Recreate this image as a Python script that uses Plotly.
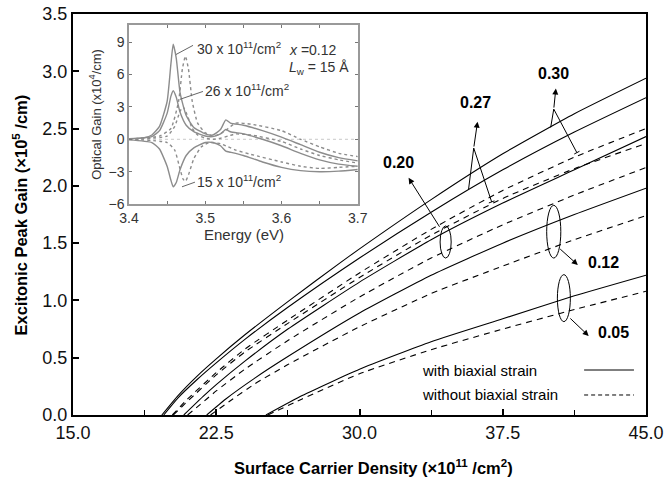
import plotly.graph_objects as go

# ---------------- main panel data ----------------
# x = surface carrier density (1e11 /cm^2), y = excitonic peak gain (1e5 /cm)
s30_x = [19.65, 20.5, 21.5, 22.5, 24.0, 26.25, 29.0, 30.0, 33.75, 37.5, 41.25, 45.0]
s30_y = [0.0, 0.17, 0.34, 0.49, 0.70, 0.99, 1.33, 1.45, 1.88, 2.28, 2.63, 2.94]
s27_x = [19.75, 20.5, 21.5, 22.5, 24.0, 26.25, 30.0, 33.75, 37.5, 41.25, 45.0]
s27_y = [0.0, 0.15, 0.31, 0.455, 0.66, 0.94, 1.37, 1.77, 2.14, 2.47, 2.77]
d30_x = [20.2, 21.0, 22.5, 24.0, 26.25, 30.0, 33.75, 37.5, 41.25, 45.0]
d30_y = [0.0, 0.14, 0.37, 0.575, 0.83, 1.24, 1.62, 1.96, 2.25, 2.50]
d27_x = [20.25, 21.0, 22.5, 24.0, 26.25, 30.0, 33.75, 37.5, 41.25, 45.0]
d27_y = [0.0, 0.12, 0.35, 0.55, 0.80, 1.20, 1.57, 1.89, 2.15, 2.37]
s20_x = [20.8, 21.8, 22.5, 24.0, 26.25, 30.0, 33.75, 37.5, 41.25, 45.0]
s20_y = [0.0, 0.16, 0.265, 0.47, 0.75, 1.16, 1.53, 1.85, 2.14, 2.43]
d20_x = [21.0, 22.0, 22.5, 24.0, 26.25, 30.0, 33.75, 37.5, 41.25, 45.0]
d20_y = [0.0, 0.14, 0.21, 0.40, 0.65, 1.03, 1.37, 1.66, 1.92, 2.16]
s12_x = [22.0, 23.0, 24.5, 26.25, 30.0, 33.75, 37.5, 41.25, 45.0]
s12_y = [0.0, 0.14, 0.32, 0.51, 0.89, 1.22, 1.50, 1.75, 1.98]
d12_x = [22.2, 23.2, 24.5, 26.25, 30.0, 33.75, 37.5, 41.25, 45.0]
d12_y = [0.0, 0.12, 0.27, 0.44, 0.77, 1.06, 1.30, 1.53, 1.74]
s05_x = [25.1, 27.0, 30.0, 33.75, 37.5, 41.25, 45.0]
s05_y = [0.0, 0.17, 0.40, 0.64, 0.84, 1.04, 1.22]
d05_x = [25.2, 27.0, 30.0, 33.75, 37.5, 41.25, 45.0]
d05_y = [0.0, 0.14, 0.36, 0.57, 0.75, 0.92, 1.08]

x_ticks = [15.0, 22.5, 30.0, 37.5, 45.0]
y_ticks = [0.0, 0.5, 1.0, 1.5, 2.0, 2.5, 3.0, 3.5]

# composition labels: text, label position, arrow tail, arrow tip
comp_labels = ["0.30", "0.27", "0.20", "0.12", "0.05"]
label_x = [40.17, 36.07, 32.04, 42.80, 43.30]
label_y = [2.98, 2.73, 2.20, 1.33, 0.72]
arrow_tail_x = [40.17, 35.98, 34.24, 40.43, 40.96]
arrow_tail_y = [2.67, 2.33, 1.63, 1.46, 0.855]
arrow_tip_x = [40.28, 36.18, 32.57, 41.43, 42.00]
arrow_tip_y = [2.85, 2.56, 2.07, 1.31, 0.69]
# branch lines from junction to the two curves (0.30 and 0.27)
branch_from = [(40.17, 2.67), (40.17, 2.67), (35.98, 2.33), (35.98, 2.33)]
branch_to = [(40.01, 2.51), (41.38, 2.29), (35.71, 1.97), (36.92, 1.86)]
# small end bars at the dashed-curve ends of the branches
bar_center = [(41.38, 2.29), (36.92, 1.86)]
bar_half = [(0.137, 0.012), (0.149, 0.009)]
# ellipses: center x, center y, half width, half height
ell_cx = [34.51, 40.17, 40.70]
ell_cy = [1.51, 1.60, 1.02]
ell_hw = [0.29, 0.37, 0.34]
ell_hh = [0.14, 0.23, 0.205]

# ---------------- inset data ----------------
e_s30 = [3.40, 3.42, 3.43, 3.44, 3.45, 3.455, 3.458, 3.462, 3.467, 3.475, 3.485, 3.50, 3.51, 3.52, 3.527, 3.533, 3.55, 3.575, 3.60, 3.625, 3.65, 3.675, 3.70]
g_s30 = [0.05, 0.15, 0.4, 1.2, 3.5, 7.0, 8.8, 7.5, 4.3, 2.2, 1.1, 0.5, 0.4, 0.9, 1.8, 1.5, 1.3, 0.8, 0.2, -0.5, -1.2, -1.7, -2.0]
e_s26 = [3.40, 3.43, 3.44, 3.45, 3.455, 3.458, 3.462, 3.467, 3.475, 3.485, 3.50, 3.51, 3.52, 3.527, 3.533, 3.55, 3.575, 3.60, 3.625, 3.65, 3.675, 3.70]
g_s26 = [0.03, 0.25, 0.8, 2.4, 4.0, 4.5, 3.9, 2.5, 1.3, 0.7, 0.3, 0.25, 0.5, 0.9, 0.7, 0.5, 0.0, -0.6, -1.3, -1.9, -2.3, -2.5]
e_s15 = [3.40, 3.43, 3.44, 3.45, 3.455, 3.458, 3.462, 3.467, 3.475, 3.485, 3.50, 3.51, 3.52, 3.527, 3.533, 3.55, 3.575, 3.60, 3.625, 3.65, 3.675, 3.70]
g_s15 = [-0.05, -0.3, -0.9, -2.5, -3.8, -4.4, -4.0, -2.8, -1.5, -0.8, -0.3, -0.3, -0.6, -1.1, -1.2, -1.5, -2.1, -2.6, -2.9, -3.0, -2.95, -2.8]
e_d30 = [3.40, 3.44, 3.455, 3.465, 3.47, 3.474, 3.478, 3.483, 3.49, 3.50, 3.51, 3.52, 3.53, 3.54, 3.56, 3.60, 3.625, 3.65, 3.675, 3.70]
g_d30 = [0.02, 0.3, 1.0, 3.5, 6.5, 7.7, 6.5, 3.5, 1.5, 0.6, 0.3, 0.5, 1.0, 1.5, 1.4, 0.8, 0.0, -0.7, -1.3, -1.6]
e_d26 = [3.40, 3.45, 3.46, 3.467, 3.471, 3.476, 3.483, 3.49, 3.50, 3.51, 3.52, 3.53, 3.54, 3.56, 3.60, 3.625, 3.65, 3.675, 3.70]
g_d26 = [0.0, 0.3, 1.2, 2.6, 3.0, 2.3, 1.0, 0.4, 0.1, 0.0, 0.1, 0.3, 0.5, 0.4, -0.2, -0.9, -1.5, -1.9, -2.2]
e_d15 = [3.40, 3.45, 3.46, 3.466, 3.471, 3.474, 3.478, 3.485, 3.495, 3.505, 3.52, 3.53, 3.54, 3.56, 3.60, 3.625, 3.65, 3.675, 3.70]
g_d15 = [0.0, -0.3, -1.0, -2.5, -3.7, -3.9, -3.3, -1.8, -0.7, -0.3, -0.4, -0.7, -1.0, -1.4, -2.1, -2.5, -2.7, -2.6, -2.5]

inset_x_ticks = [3.4, 3.5, 3.6, 3.7]
inset_y_ticks = [-6, -3, 0, 3, 6, 9]

FONT = "Liberation Sans, Arial, sans-serif"
DASH = "6px,5px"

fig = go.Figure()

main_series = [
    (s30_x, s30_y, "solid"), (s27_x, s27_y, "solid"), (d30_x, d30_y, DASH),
    (d27_x, d27_y, DASH), (s20_x, s20_y, "solid"), (d20_x, d20_y, DASH),
    (s12_x, s12_y, "solid"), (d12_x, d12_y, DASH), (s05_x, s05_y, "solid"),
    (d05_x, d05_y, DASH),
]
for xs, ys, dash in main_series:
    fig.add_trace(go.Scatter(x=xs, y=ys, mode="lines", showlegend=False,
                             line=dict(color="black", width=1.1, dash=dash,
                                       shape="spline", smoothing=0.5),
                             xaxis="x", yaxis="y", hoverinfo="skip"))

inset_series = [
    (e_s30, g_s30, "solid"), (e_s26, g_s26, "solid"), (e_s15, g_s15, "solid"),
    (e_d30, g_d30, "dot"), (e_d26, g_d26, "dot"), (e_d15, g_d15, "dot"),
]
# zero line in the inset
fig.add_trace(go.Scatter(x=[inset_x_ticks[0], inset_x_ticks[-1]], y=[0, 0], mode="lines",
                         line=dict(color="#c8c8c8", width=1, dash="dot"),
                         xaxis="x2", yaxis="y2", showlegend=False, hoverinfo="skip"))
for xs, ys, dash in inset_series:
    fig.add_trace(go.Scatter(x=xs, y=ys, mode="lines", showlegend=False,
                             line=dict(color="#8c8c8c", width=1.4, dash=dash,
                                       shape="spline", smoothing=0.5),
                             xaxis="x2", yaxis="y2", hoverinfo="skip"))

shapes = []
for (fx, fy), (tx, ty) in zip(branch_from, branch_to):
    shapes.append(dict(type="line", xref="x", yref="y", x0=fx, y0=fy, x1=tx, y1=ty,
                       line=dict(color="black", width=1)))
for (cx, cy), (hx, hy) in zip(bar_center, bar_half):
    shapes.append(dict(type="line", xref="x", yref="y", x0=cx - hx, y0=cy - hy,
                       x1=cx + hx, y1=cy + hy, line=dict(color="black", width=1)))
for cx, cy, hw, hh in zip(ell_cx, ell_cy, ell_hw, ell_hh):
    shapes.append(dict(type="circle", xref="x", yref="y", x0=cx - hw, x1=cx + hw,
                       y0=cy - hh, y1=cy + hh, line=dict(color="black", width=1)))
# legend sample lines
shapes.append(dict(type="line", xref="paper", yref="paper", x0=0.892, x1=0.979,
                   y0=0.1122, y1=0.1122, line=dict(color="black", width=1)))
shapes.append(dict(type="line", xref="paper", yref="paper", x0=0.892, x1=0.979,
                   y0=0.0499, y1=0.0499, line=dict(color="black", width=1, dash="4px,3px")))

ann = []
for t, lx, ly in zip(comp_labels, label_x, label_y):
    ann.append(dict(x=lx, y=ly, xref="x", yref="y", text="<b>" + t + "</b>",
                    xanchor="center", yanchor="middle",
                    showarrow=False, font=dict(family=FONT, size=16, color="black")))
for tx, ty, hx, hy in zip(arrow_tail_x, arrow_tail_y, arrow_tip_x, arrow_tip_y):
    ann.append(dict(x=hx, y=hy, ax=tx, ay=ty, xref="x", yref="y", axref="x", ayref="y",
                    text="", showarrow=True, arrowhead=2, arrowsize=1.2, arrowwidth=1,
                    arrowcolor="black"))
# legend texts
ann.append(dict(x=0.6056, y=0.1122, xref="paper", yref="paper", xanchor="left",
                yanchor="middle", text="with biaxial strain", showarrow=False,
                font=dict(family=FONT, size=15, color="black")))
ann.append(dict(x=0.6056, y=0.0499, xref="paper", yref="paper", xanchor="left",
                yanchor="middle", text="without biaxial strain", showarrow=False,
                font=dict(family=FONT, size=15, color="black")))
# axis titles
ann.append(dict(x=-0.0925, y=0.5, xref="paper", yref="paper", textangle=-90,
                xanchor="center", yanchor="middle",
                text="<b>Excitonic Peak Gain (×10<sup>5</sup> /cm)</b>", showarrow=False,
                font=dict(family=FONT, size=16.5, color="black")))
ann.append(dict(x=0.525, y=-0.13, xref="paper", yref="paper",
                xanchor="center", yanchor="middle",
                text="<b>Surface Carrier Density (×10<sup>11</sup> /cm<sup>2</sup>)</b>",
                showarrow=False, font=dict(family=FONT, size=16.5, color="black")))
# inset texts
IC = "#333333"
ann.append(dict(x=0.2976, y=0.449, xref="paper", yref="paper", xanchor="center",
                yanchor="middle", text="Energy (eV)", showarrow=False,
                font=dict(family=FONT, size=15, color=IC)))
ann.append(dict(x=3.4865, y=8.5, xref="x2", yref="y2", xanchor="left", yanchor="middle",
                text="30 x 10<sup>11</sup>/cm<sup>2</sup>", showarrow=False,
                font=dict(family=FONT, size=14, color=IC)))
ann.append(dict(x=3.497, y=4.6, xref="x2", yref="y2", xanchor="left", yanchor="middle",
                text="26 x 10<sup>11</sup>/cm<sup>2</sup>", showarrow=False,
                font=dict(family=FONT, size=14, color=IC)))
ann.append(dict(x=3.4865, y=-3.9, xref="x2", yref="y2", xanchor="left", yanchor="middle",
                text="15 x 10<sup>11</sup>/cm<sup>2</sup>", showarrow=False,
                font=dict(family=FONT, size=14, color=IC)))
ann.append(dict(x=3.607, y=8.3, xref="x2", yref="y2", xanchor="left", yanchor="middle",
                text="<i>x</i> =0.12", showarrow=False,
                font=dict(family=FONT, size=14, color=IC)))
ann.append(dict(x=3.607, y=6.6, xref="x2", yref="y2", xanchor="left", yanchor="middle",
                text="<i>L</i><sub>w</sub> = 15 Å", showarrow=False,
                font=dict(family=FONT, size=14, color=IC)))
# inset leader lines
lead_from = [(3.484, 8.7), (3.497, 4.43), (3.4865, -3.97)]
lead_to = [(3.4616, 7.85), (3.4668, 3.7), (3.4695, -4.4)]
for (fx, fy), (tx, ty) in zip(lead_from, lead_to):
    shapes.append(dict(type="line", xref="x2", yref="y2", x0=fx, y0=fy, x1=tx, y1=ty,
                       line=dict(color="#666666", width=1)))

fig.update_layout(
    width=668, height=483,
    margin=dict(l=73, r=22, t=14, b=68, autoexpand=False),
    paper_bgcolor="white", plot_bgcolor="white",
    font=dict(family=FONT, color="black"),
    shapes=shapes, annotations=ann, showlegend=False,
    xaxis=dict(domain=[0, 1], range=[15, 45], tickvals=x_ticks, tickformat=".1f",
               automargin=False,
               ticks="inside", ticklen=6, tickwidth=1.5, tickcolor="black",
               minor=dict(dtick=3.75, ticks="inside", ticklen=5, tickwidth=1.2, tickcolor="black"),
               showline=True, linewidth=2, linecolor="black", mirror=True,
               showgrid=False, zeroline=False, tickfont=dict(size=18, family=FONT, color="#111111")),
    yaxis=dict(domain=[0, 1], range=[0, 3.5], tickvals=y_ticks, tickformat=".1f",
               automargin=False,
               ticks="inside", ticklen=6, tickwidth=1.5, tickcolor="black",
               showline=True, linewidth=2, linecolor="black", mirror=True,
               showgrid=False, zeroline=False, tickfont=dict(size=18, family=FONT, color="#111111")),
    xaxis2=dict(domain=[0.0977, 0.497], anchor="y2", range=[3.4, 3.7],
                tickvals=inset_x_ticks, tickformat=".1f", automargin=False,
                ticks="inside", ticklen=3, tickcolor="#777777",
                minor=dict(dtick=0.05, ticks="inside", ticklen=3, tickcolor="#777777"),
                showline=True, linewidth=1.5, linecolor="#999999", mirror="allticks",
                showgrid=False, zeroline=False,
                tickfont=dict(size=14, family=FONT, color=IC)),
    yaxis2=dict(domain=[0.526, 0.973], anchor="x2", range=[-6, 10.6],
                tickvals=inset_y_ticks, automargin=False,
                ticks="inside", ticklen=3, tickcolor="#777777",
                showline=True, linewidth=1.5, linecolor="#999999", mirror="allticks",
                showgrid=False, zeroline=False,
                tickfont=dict(size=14, family=FONT, color=IC),
                title=dict(text="Optical Gain (x10<sup>4</sup>/cm)",
                           font=dict(size=13, family=FONT, color=IC), standoff=4)),
)

fig.write_html("out.html", config={"displayModeBar": False},
               post_script="document.body.style.margin='0';")
